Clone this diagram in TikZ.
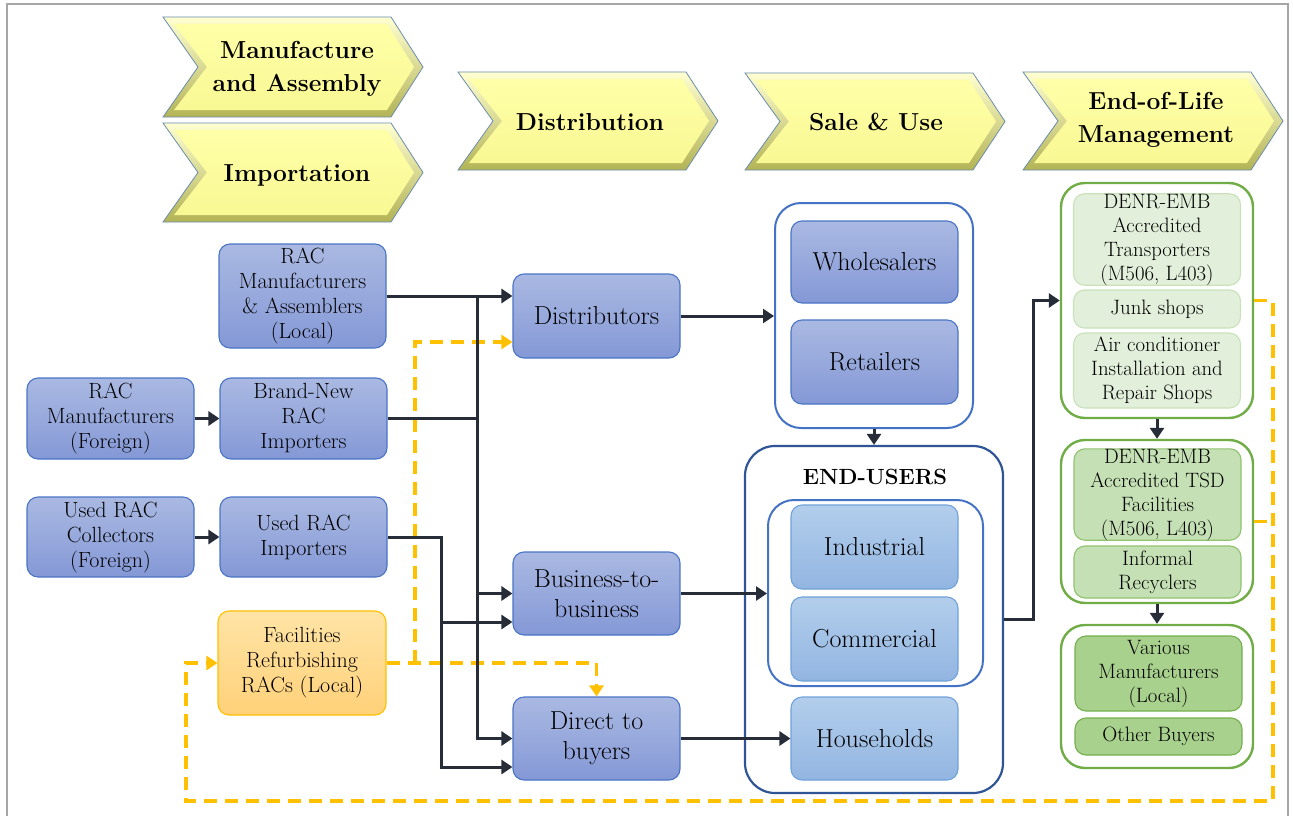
\documentclass[tikz,border=0pt]{standalone}
\usepackage{fontspec}
\usetikzlibrary{arrows.meta,calc}
\definecolor{btop}{HTML}{AAB9E2}
\definecolor{bbot}{HTML}{8498D6}
\definecolor{bborder}{HTML}{4A74C6}
\definecolor{lbtop}{HTML}{B3CEEC}
\definecolor{lbbot}{HTML}{92B5E1}
\definecolor{lbborder}{HTML}{6FA2DA}
\definecolor{contblue}{HTML}{4472C4}
\definecolor{contdark}{HTML}{2F5597}
\definecolor{otop}{HTML}{FFE4A6}
\definecolor{obot}{HTML}{FFD179}
\definecolor{oborder}{HTML}{FFC000}
\definecolor{gfillA}{HTML}{E2EFDA}
\definecolor{gbordA}{HTML}{C9E2BA}
\definecolor{gfillB}{HTML}{C5E0B4}
\definecolor{gbordB}{HTML}{8FC36E}
\definecolor{gfillC}{HTML}{A9D18E}
\definecolor{gbordC}{HTML}{74B04E}
\definecolor{gcont}{HTML}{70AD47}
\definecolor{cdark}{HTML}{262D38}
\definecolor{oyel}{HTML}{FFC000}
\definecolor{framegrey}{HTML}{A6A6A6}
\definecolor{chevedge}{HTML}{6A8CAE}
\definecolor{chevlight}{HTML}{FFFFD2}
\definecolor{chevdark}{HTML}{B3B355}
\definecolor{chevin}{HTML}{FFFFA8}
\definecolor{chevinb}{HTML}{F8F894}
\tikzset{
  lbox/.style={draw=bborder, line width=1.1pt, rounded corners=11pt, top color=btop, bottom color=bbot,
    align=center, inner sep=0pt, font=\fontsize{22}{25}\selectfont, minimum width=167pt},
  mbox/.style={lbox, font=\fontsize{26}{30}\selectfont},
  lbbox/.style={draw=lbborder, line width=1.1pt, rounded corners=11pt, top color=lbtop, bottom color=lbbot,
    align=center, inner sep=0pt, font=\fontsize{26}{30}\selectfont, minimum width=167pt},
  obox/.style={lbox, draw=oborder, top color=otop, bottom color=obot},
  bcont/.style={draw=contblue, line width=2pt, fill=white, rounded corners=26pt, inner sep=0pt},
  gcontainer/.style={draw=gcont, line width=2.4pt, fill=white, rounded corners=24pt, inner sep=0pt, minimum width=192pt},
  gbox/.style={rounded corners=11pt, line width=1.1pt, align=center, inner sep=0pt,
    font=\fontsize{20.8}{24}\selectfont, minimum width=167pt},
  gA/.style={gbox, draw=gbordA, fill=gfillA},
  gB/.style={gbox, draw=gbordB, fill=gfillB},
  gC/.style={gbox, draw=gbordC, fill=gfillC},
  chevtext/.style={align=center, inner sep=0pt, font=\fontsize{24.6}{33}\selectfont\bfseries},
  conn/.style={draw=cdark, line width=3pt, -{Triangle[length=11pt,width=14pt]}},
  plainline/.style={draw=cdark, line width=3pt},
  odash/.style={draw=oyel, line width=3.2pt, dash pattern=on 13pt off 8pt, -{Triangle[length=11pt,width=14pt]}},
  odashline/.style={draw=oyel, line width=3.2pt, dash pattern=on 13pt off 8pt},
}
\newcommand\chevronshape[3]{%
  \path[top color=chevlight, bottom color=chevdark, draw=chevedge, line width=0.8pt]
    ({#1},{#2}) -- ({#1+228},{#2}) -- ({#1+260},{(#2+#3)/2}) -- ({#1+228},{#3})
    -- ({#1},{#3}) -- ({#1+35},{(#2+#3)/2}) -- cycle;
  \path[top color=chevin, bottom color=chevinb]
    ({#1+11},{#2+7}) -- ({#1+224},{#2+7}) -- ({#1+251},{(#2+#3)/2}) -- ({#1+224},{#3-7})
    -- ({#1+11},{#3-7}) -- ({#1+44},{(#2+#3)/2}) -- cycle;
}
\begin{document}
\begin{tikzpicture}[x=1pt,y=-1pt]
\useasboundingbox (0,0) rectangle (1293,816);
% frame
\draw[framegrey, line width=2.5pt] (7,818) -- (7,4) -- (1288,4) -- (1288,818);

% chevrons
\chevronshape{163}{17}{117}
\chevronshape{163}{123}{222}
\chevronshape{458}{72}{170}
\chevronshape{745}{73}{170}
\chevronshape{1023}{72}{170}
\node[chevtext] (cma) at (297,69) {Manufacture\\and Assembly};
\node[chevtext] (cimp) at (297,175) {Importation};
\node[chevtext] (cdist) at (590,122) {Distribution};
\node[chevtext] (csale) at (876,122) {Sale \& Use};
\node[chevtext] (ceol) at (1156,120) {End-of-Life\\Management};

% left boxes
\node[lbox, minimum height=104pt] (mal) at (302.5,296) {RAC\\Manufacturers\\\& Assemblers\\(Local)};
\node[lbox, minimum height=81pt] (mf) at (110.5,418.5) {RAC\\Manufacturers\\(Foreign)};
\node[lbox, minimum height=81pt] (bni) at (303.5,418.5) {Brand-New\\RAC\\Importers};
\node[lbox, minimum height=80pt] (urc) at (110.5,537) {Used RAC\\Collectors\\(Foreign)};
\node[lbox, minimum height=80pt] (uri) at (303.5,537) {Used RAC\\Importers};
\node[obox, minimum height=104pt, minimum width=168pt] (frf) at (302,663) {Facilities\\Refurbishing\\RACs (Local)};

% distribution boxes
\node[mbox, minimum height=84pt] (dist) at (596.5,316) {Distributors};
\node[mbox, minimum height=83pt] (b2b) at (596.5,593.5) {Business-to-\\business};
\node[mbox, minimum height=83pt] (dtb) at (596.5,738.5) {Direct to\\buyers};

% sale & use
\node[bcont, minimum width=198pt, minimum height=225pt] (wr) at (874,315.5) {};
\node[mbox, minimum height=82pt] (whole) at (874.5,262) {Wholesalers};
\node[mbox, minimum height=84pt] (ret) at (874.5,362) {Retailers};
\node[bcont, draw=contdark, line width=2.2pt, rounded corners=30pt, minimum width=258pt, minimum height=347pt] (eu) at (874,619.5) {};
\node[font=\fontsize{22}{30}\selectfont\bfseries, inner sep=0pt] (eul) at (875,477) {END-USERS};
\node[bcont, minimum width=215pt, minimum height=186pt] (euin) at (875.5,593) {};
\node[lbbox, minimum height=84pt] (ind) at (874.5,547) {Industrial};
\node[lbbox, minimum height=84pt] (com) at (874.5,639) {Commercial};
\node[lbbox, minimum height=83pt] (hh) at (874.5,738.5) {Households};

% end of life
\node[gcontainer, minimum height=235pt] (g1) at (1157,300.5) {};
\node[gA, minimum height=91pt] (tr) at (1157,239.5) {DENR-EMB\\Accredited\\Transporters\\(M506, L403)};
\node[gA, minimum height=38pt] (js) at (1157,309) {Junk shops};
\node[gA, minimum height=75pt] (ac) at (1157,370.5) {Air conditioner\\Installation and\\Repair Shops};
\node[gcontainer, minimum height=163pt] (g2) at (1157,521.5) {};
\node[gB, minimum height=91pt] (tsd) at (1157.5,494.5) {DENR-EMB\\Accredited TSD\\Facilities\\(M506, L403)};
\node[gB, minimum height=52pt] (ir) at (1157.5,572) {Informal\\Recyclers};
\node[gcontainer, minimum height=143pt] (g3) at (1157,696.5) {};
\node[gC, minimum height=75pt] (vm) at (1158.5,673.5) {Various\\Manufacturers\\(Local)};
\node[gC, minimum height=37pt] (ob) at (1158.5,736.5) {Other Buyers};

% orange dashed connectors
\coordinate (oj) at (415,663);
\coordinate (obr) at (1273,801);
\coordinate (obl) at (186,801);
\draw[odash] (frf.east) -| (dtb.north);
\draw[odash] (oj) |- ($(dist.west)+(0,26)$);
\draw[odash] (g1.east) -| (obr) -- (obl) |- (frf.west);
\draw[odashline] (g2.east) -- (g2.east -| obr);

% dark connectors
\coordinate (tk) at (477,296);
\coordinate (tk2) at (441,537);
\coordinate (ej) at (1033,300.5);
\coordinate (b2bl) at ($(b2b.west)+(0,28.5)$);
\coordinate (dtbl) at ($(dtb.west)+(0,28.5)$);
\draw[conn] (mal.east) -- (mal.east -| dist.west);
\draw[conn] (tk) |- (dtb.west);
\draw[conn] (tk |- b2b.west) -- (b2b.west);
\draw[plainline] (bni.east) -- (bni.east -| tk);
\draw[conn] (uri.east) -- (tk2) |- (dtbl);
\draw[conn] (tk2 |- b2bl) -- (b2bl);
\draw[conn] (mf.east) -- (bni.west);
\draw[conn] (urc.east) -- (uri.west);
\draw[conn] (dist.east) -- (dist.east -| wr.west);
\draw[conn] (wr.south) -- (eu.north);
\draw[conn] (b2b.east) -- (b2b.east -| euin.west);
\draw[conn] (dtb.east) -- (hh.west);
\draw[conn] (eu.east) -| (ej) -- (g1.west);
\draw[conn] (g1.south) -- (g2.north);
\draw[conn] (g2.south) -- (g3.north);
\end{tikzpicture}
\end{document}
